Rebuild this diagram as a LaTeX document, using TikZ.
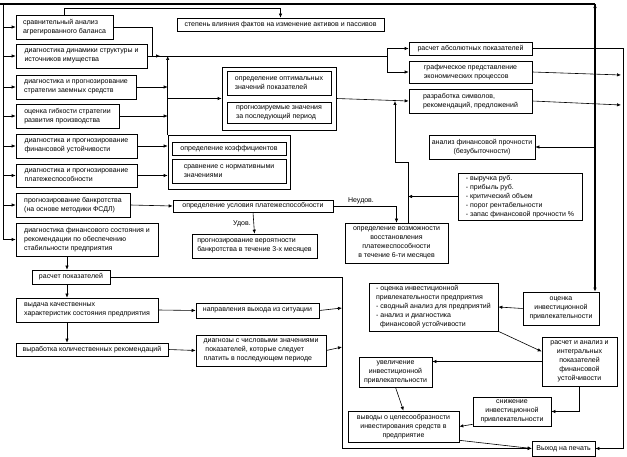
\documentclass[tikz,border=0pt]{standalone}
\usepackage{fontspec}
\setmainfont{Liberation Sans}
\usetikzlibrary{arrows.meta}
\newcommand\BX[7]{%
 \pgfmathsetmacro\BXw{#4-#2}%
 \pgfmathsetmacro\BXh{#5-#3}%
 \pgfmathsetmacro\BXx{(#2+#4)/2}%
 \pgfmathsetmacro\BXy{(#3+#5)/2}%
 \node[bx,minimum width=\BXw pt,minimum height=\BXh pt,align=#6] (#1) at (\BXx,\BXy) {#7};}
\tikzset{
 bx/.style={draw,line width=0.6pt,inner sep=1pt,font=\fontsize{7}{9}\selectfont},
 arr/.style={-{Latex[length=4pt,width=3.4pt]},line width=0.6pt},
 lbl/.style={font=\fontsize{7}{9}\selectfont,inner sep=0pt}
}
\begin{document}
\begin{tikzpicture}[x=1pt,y=-1pt]
\useasboundingbox[fill=white] (0,0) rectangle (627,457);
% left column
\BX{l1}{16}{15}{113}{39}{left}{сравнительный анализ\\агрегированного баланса}
\BX{l2}{16}{44}{147}{68}{left}{диагностика динамики структуры и\\источников имущества}
\BX{l3}{16}{75}{136}{99}{left}{диагностика и прогнозирование\\стратегии заемных средств}
\BX{l4}{16}{104}{119}{128}{left}{оценка гибкости стратегии\\развития производства}
\BX{l5}{16}{134}{137}{158}{left}{диагностика и прогнозирование\\финансовой устойчивости}
\BX{l6}{16}{164}{137}{187}{left}{диагностика и прогнозирование\\платежеспособности}
\BX{l7}{16}{193}{130}{217}{left}{прогнозирование банкротства\\(на основе методики ФСДЛ)}
\BX{l8}{16}{223}{158}{256}{left}{диагностика финансового состояния и\\рекомендации по обеспечению\\стабильности предприятия}
\BX{rp}{32}{270}{110}{284}{left}{расчет показателей}
\BX{vk}{16}{298}{158}{322}{left}{выдача качественных\\характеристик состояния предприятия}
\BX{vr}{16}{343}{168}{356}{left}{выработка количественных рекомендаций}
\BX{nv}{196}{303}{319}{318}{left}{направления выхода из ситуации}
\BX{dz}{196}{335}{326}{366}{left}{диагнозы с числовыми значениями\\\ показателей, которые следует\\платить в последующем периоде}
% middle
\BX{st}{177}{18}{384}{31}{left}{степень влияния фактов на изменение активов и пассивов}
\BX{grp}{222}{67}{336}{130}{center}{}
\BX{op}{227}{71}{331}{95}{left}{определение оптимальных\\значений показателей}
\BX{pz}{227}{102}{331}{123}{left}{прогнозируемые значения\\за последующий период}
\BX{kg}{168}{135}{290}{189}{center}{}
\BX{ok}{172}{142}{286}{155}{left}{определение коэффициентов}
\BX{sr}{172}{159}{286}{183}{left}{сравнение с нормативными\\значениями}
\BX{ou}{173}{200}{333}{212}{left}{определение условия платежеспособности}
\BX{pv}{192}{234}{317}{258}{left}{прогнозирование вероятности\\банкротства в течение 3-х месяцев}
\BX{vz}{345}{223}{448}{263}{center}{определение возможности\\восстановления\\платежеспособности\\в течение 6-ти месяцев}
% right
\BX{ra}{409}{42}{532}{55}{left}{расчет абсолютных показателей}
\BX{gr}{409}{61}{532}{83}{left}{графическое представление\\экономических процессов}
\BX{rs}{409}{89}{532}{113}{left}{разработка символов,\\рекомендаций, предложений}
\BX{af}{429}{135}{535}{159}{center}{анализ финансовой прочности\\(безубыточности)}
\BX{vl}{458}{173}{582}{220}{left}{- выручка руб.\\- прибыль руб.\\- критический объем\\- порог рентабельности\\- запас финансовой прочности \%}
\BX{oi}{523}{292}{599}{325}{center}{оценка\\инвестиционной\\привлекательности}
\BX{il}{369}{283}{498}{331}{left}{- оценка инвестиционной\\привлекательности предприятия\\- сводный анализ для предприятий\\- анализ и диагностика\\\ \ финансовой устойчивости}
\BX{ri}{542}{337}{617}{386}{center}{расчет и анализ и\\интегральных\\показателей\\финансовой\\устойчивости}
\BX{uv}{359}{357}{432}{387}{center}{увеличение\\инвестиционной\\привлекательности}
\BX{sn}{473}{397}{551}{426}{center}{снижение\\инвестиционной\\привлекательности}
\BX{vy}{348}{411}{459}{442}{center}{выводы о целесообразности\\инвестирования средств в\\предприятие}
\BX{vp}{532}{441}{595}{456}{center}{Выход на печать}
% labels
\node[lbl] (ud) at (242,224) {Удов.};
\node[lbl] (nd) at (361,201) {Неудов.};
% coordinates
\coordinate (tl) at (0,4);
\coordinate (tr) at (595,4);
\coordinate (lv) at (3,4);
\coordinate (h1) at (152,56);
\coordinate (h2) at (387,56);
\coordinate (k1) at (408,162);
\coordinate (k2) at (395,162);
\coordinate (rx) at (623,0);
\coordinate (e2) at (621,75);
\coordinate (e3) at (621,105);
\coordinate (cx) at (342,277);
\coordinate (a1) at (342,308);
\coordinate (a2) at (342,347);
\coordinate (c67) at (67,0);
% top thick line
\draw[line width=1.8pt] (tl) -- (tr);
\draw[arr,line width=1.2pt] (tr) -- (tr |- oi.north);
\draw[-{Latex[length=4pt,width=3.6pt]},line width=1pt] (tr) -- ++(0,7);
% left collector
\draw[line width=0.8pt] (lv) -- (lv |- l8.west);
\foreach \n in {l1,l2,l3,l4,l5,l6,l7,l8} {\draw[arr] (lv |- \n.west) -- (\n.west);}
% box 1 connectors
\draw[arr] (l1.north) -- ++(0,-6) -| (st.north);
\draw[arr] (l1.east) -| (h1) -- ++(8,0);
\draw[line width=0.6pt] (l2.east) -- (h2);
\draw[arr] (h2) |- (ra.west);
\draw[arr] (h2) |- (gr.west);
% middle collector
\draw[arr] (kg.north west) -- (kg.north west |- l2.east);
\foreach \n in {l3,l4,l5,l6} {\draw[arr] (\n.east) -- (\n.east -| kg.west);}
\draw[arr] (grp.west -| kg.west) -- (grp.west);
\draw[arr] (grp.east) -- (rs.west);
\draw[arr] (l7.east) -- (ou.west);
\draw[arr] (ou.south) -- (pv.north);
\draw[arr] (ou.east) -| (vz.north);
\draw[arr] (vz.north -| k1) -- (k1) -- (k2) -- (k2 |- rs.west);
\draw[arr] (vl.west) -- (vl.west -| k1);
\draw[arr] (tr |- af.east) -- (af.east);
% right collector
\draw[arr] (ra.east) -- (ra.east -| rx) |- (vp.east);
\draw[arr] (gr.east) -- (e2);
\draw[arr] (rs.east) -- (e3);
% investment part
\draw[arr] (oi.west) -- (il.east);
\draw[arr] (il.south east) -- ([yshift=10pt]ri.west);
\draw[arr] (ri.west) -- (ri.west -| uv.east);
\draw[arr] (ri.south) |- (sn.east);
\draw[arr] (uv.south) -- (vy.north);
\draw[arr] ([yshift=2pt]sn.south west) -- (vy.east);
\draw[arr] ([yshift=2pt]vy.south east) -- (vp.west);
% bottom-left part
\draw[arr] (rp.east) -- (cx) |- (vp.west);
\draw[arr] (nv.east) -- (a1);
\draw[arr] (dz.east) -- (a2);
\draw[arr] (l8.south -| c67) -- (rp.north -| c67);
\draw[arr] (rp.south -| c67) -- (vk.north -| c67);
\draw[arr] (vk.south -| c67) -- (vr.north -| c67);
\draw[arr] (vk.east) -- (nv.west);
\draw[arr] (vr.east) -- (dz.west);
\end{tikzpicture}
\end{document}
